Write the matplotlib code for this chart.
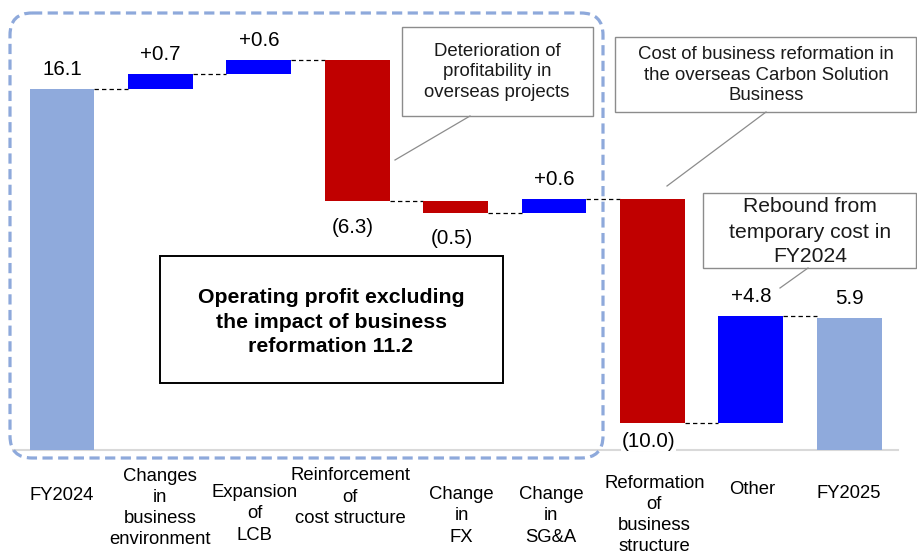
import matplotlib
matplotlib.use("Agg")
import matplotlib.pyplot as plt
from matplotlib.patches import FancyBboxPatch, Rectangle
from matplotlib.transforms import blended_transform_factory

plt.rcParams['font.family'] = ['Liberation Sans', 'DejaVu Sans']

# ---------------- data ----------------
categories = ["FY2024", "Changes\nin\nbusiness\nenvironment", "Expansion\nof\nLCB",
              "Reinforcement\nof\ncost structure", "Change\nin\nFX", "Change\nin\nSG&A",
              "Reformation\nof\nbusiness\nstructure", "Other", "FY2025"]
values = [16.1, 0.7, 0.6, -6.3, -0.5, 0.6, -10.0, 4.8, 5.9]
kinds = ["total", "delta", "delta", "delta", "delta", "delta", "delta", "delta", "total"]
value_labels = ["16.1", "+0.7", "+0.6", "(6.3)", "(0.5)", "+0.6", "(10.0)", "+4.8", "5.9"]

callout_texts = ["Deterioration of\nprofitability in\noverseas projects",
                 "Cost of business reformation in\nthe overseas Carbon Solution\nBusiness",
                 "Rebound from\ntemporary cost in\nFY2024"]
box_text = "Operating profit excluding\nthe impact of business\nreformation 11.2"

# ---------------- style ----------------
C_TOTAL = "#8FAADC"
C_POS = "#0000FF"
C_NEG = "#C00000"

W, H = 917, 554
fig = plt.figure(figsize=(W / 100, H / 100), dpi=100)
ax = fig.add_axes([0, 0, 1, 1])
step_px, unit_px, x0_px, base_px = 98.4, 22.4, 62, 450
ax.set_xlim(-x0_px / step_px, (W - x0_px) / step_px)
ax.set_ylim(-(H - base_px) / unit_px, base_px / unit_px)
ax.axis("off")

# overlay axes in pixel coordinates for annotations
ax2 = fig.add_axes([0, 0, 1, 1], facecolor="none")
ax2.set_xlim(0, W)
ax2.set_ylim(H, 0)
ax2.axis("off")

bw = 0.66
# axis baseline
ax.plot([-0.5, 8.5], [0, 0], color="#D9D9D9", lw=1.5, zorder=1)

running = 0.0
tops = []
bottoms = []
for i, (v, k) in enumerate(zip(values, kinds)):
    if k == "total":
        bottom, height, col = 0, v, C_TOTAL
    else:
        bottom = running if v >= 0 else running + v
        height = abs(v)
        col = C_POS if v >= 0 else C_NEG
    if k == "total" and i == 0:
        running = v
    elif k == "delta":
        running += v
    ax.bar(i, height, bottom=bottom, width=bw, color=col, zorder=3)
    bottoms.append(bottom)
    tops.append(bottom + height)

# connectors
running = 0.0
levels = []
for i, (v, k) in enumerate(zip(values, kinds)):
    if k == "total" and i == 0:
        running = v
    elif k == "delta":
        running += v
    levels.append(running)
for i in range(len(values) - 1):
    ax.plot([i + bw / 2, i + 1 - bw / 2], [levels[i], levels[i]], color="black",
            lw=0.9, linestyle=(0, (3.5, 2.5)), zorder=2)

# value labels
for i, (v, k, lab) in enumerate(zip(values, kinds, value_labels)):
    if v >= 0:
        ax.annotate(lab, (i, tops[i]), xytext=(0, 14), textcoords="offset points",
                    ha="center", va="center", fontsize=14.8, color="black", zorder=5)
    else:
        off = -13 if i == 6 else -19
        ax.annotate(lab, (i, bottoms[i]), xytext=(-3, off), textcoords="offset points",
                    ha="center", va="center", fontsize=14.8, color="black", zorder=5,
                    bbox=dict(facecolor="white", edgecolor="none", pad=0.5))

# category labels
tr = blended_transform_factory(ax.transData, ax2.transData)
label_y_px = [495, 508, 514, 497, 516, 516, 515, 489, 494]
label_dx = [0, 0, -0.04, -0.07, 0.06, -0.03, 0.02, 0.01, 0]
for i, (c, y, dx) in enumerate(zip(categories, label_y_px, label_dx)):
    ax.text(i + dx, y, c, transform=tr, ha="center", va="center", fontsize=13.3,
            linespacing=1.33, color="black")

# dashed rounded rectangle
rect = FancyBboxPatch((10, 13), 593, 445, boxstyle="round,pad=0,rounding_size=22",
                      facecolor="none", edgecolor="#8EA9DB", lw=2.3,
                      linestyle=(0, (3.2, 1.7)), zorder=6)
ax2.add_patch(rect)

# black box
ax2.add_patch(Rectangle((160, 256), 343, 127, facecolor="white", edgecolor="black",
                        lw=1.4, zorder=7))
ax2.text(331, 322, box_text, ha="center", va="center", fontsize=15.3,
         fontweight="bold", linespacing=1.36, zorder=8)

# callouts
callouts = [
    dict(box=(402, 27, 191, 89), tc=(497, 72), fs=13.4, ls=1.29, line=((470, 116), (395, 160))),
    dict(box=(615, 37, 301, 75), tc=(766, 75), fs=13.4, ls=1.29, line=((766, 112), (667, 186))),
    dict(box=(703, 193, 213, 75), tc=(810, 232), fs=15.2, ls=1.40, line=((808, 268), (780, 288))),
]
for txt, c in zip(callout_texts, callouts):
    x, y, w, h = c["box"]
    ax2.add_patch(Rectangle((x, y), w, h, facecolor="white", edgecolor="#8C8C8C",
                            lw=1.0, zorder=7))
    ax2.text(c["tc"][0], c["tc"][1], txt, ha="center", va="center", fontsize=c["fs"],
             linespacing=c["ls"], color="#1a1a1a", zorder=8)
    (xa, ya), (xb, yb) = c["line"]
    ax2.plot([xa, xb], [ya, yb], color="#8C8C8C", lw=0.9, zorder=7)

fig.savefig("out.png", dpi=100)
